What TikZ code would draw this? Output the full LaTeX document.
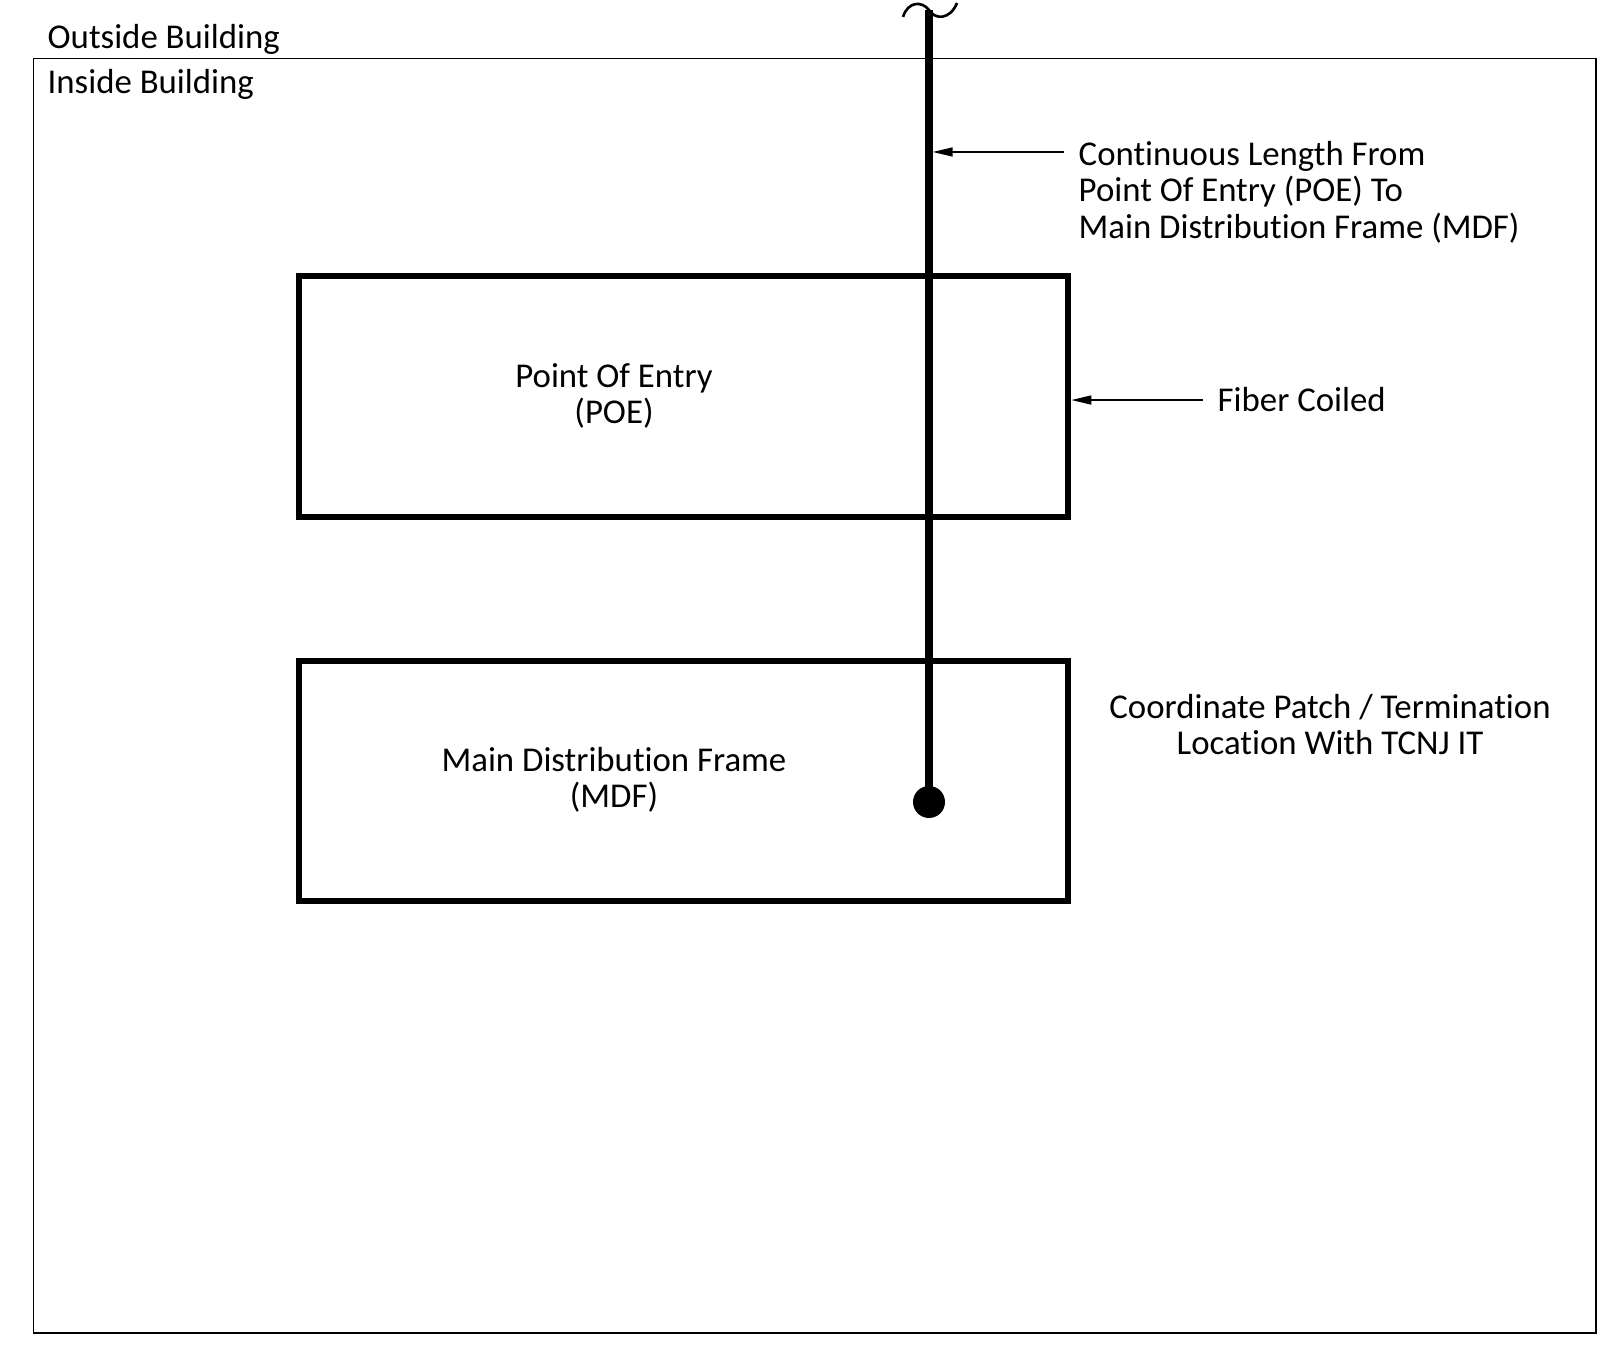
\documentclass[tikz,border=0pt]{standalone}
\usepackage{fontspec}
\setmainfont{Carlito}[Ligatures=NoCommon]
\usetikzlibrary{arrows.meta,calc}
\tikzset{framebox/.style={draw,line width=1.9pt,minimum width=7.69cm,minimum height=2.41cm,inner sep=0pt},
 fiber/.style={line width=2.1pt},pointer/.style={-{Triangle[length=2mm,width=0.9mm]},line width=0.45pt},
 every node/.style={font=\fontsize{9.9pt}{10.4pt}\selectfont,inner sep=0pt}}

\begin{document}
\begin{tikzpicture}
\useasboundingbox (0,0) rectangle (16.15,13.54);
\draw[line width=0.5pt] (0.335,0.21) rectangle (15.96,12.955);
\node[anchor=base west] (outside) at (0.47,13.05) {Outside Building};
\node[anchor=base west] (inside) at (0.47,12.60) {Inside Building};
% boxes
\node[framebox] (poe) at (6.835,9.575) {};
\node[framebox,minimum height=2.40cm] (mdf) at (6.835,5.73) {};
\node[anchor=base,align=center] (poetext) at (6.14,9.30) {Point Of Entry\\(POE)};
\node[anchor=base,align=center] (mdftext) at (6.14,5.46) {Main Distribution Frame\\(MDF)};
% fiber run
\coordinate (cut) at (9.29,13.44);
\node[circle,fill,minimum size=0.32cm] (term) at (9.29,5.52) {};
\draw[fiber] (cut) -- (term.center);
\draw[line width=0.75pt] (9.03,13.37) .. controls (9.08,13.53) and (9.22,13.53) .. (cut)
  .. controls (9.35,13.34) and (9.50,13.34) .. (9.57,13.51);
% labels
\node[anchor=base west,align=left] (length) at (10.78,11.155)
  {Continuous Length From\\Point Of Entry (POE) To\\Main Distribution Frame (MDF)};
\coordinate (lengthtail) at (10.64,12.02);
\draw[pointer,shorten >=0.37mm] (lengthtail) -- (lengthtail -| cut);
\node[anchor=base west] (coiled) at (12.17,9.42) {Fiber Coiled};
\draw[pointer] ([xshift=-1.4mm]coiled.west) -- (coiled.west -| poe.east);
\node[anchor=base,align=center] (patch) at (13.30,5.99)
  {Coordinate Patch / Termination\\Location With TCNJ IT};
\end{tikzpicture}
\end{document}
